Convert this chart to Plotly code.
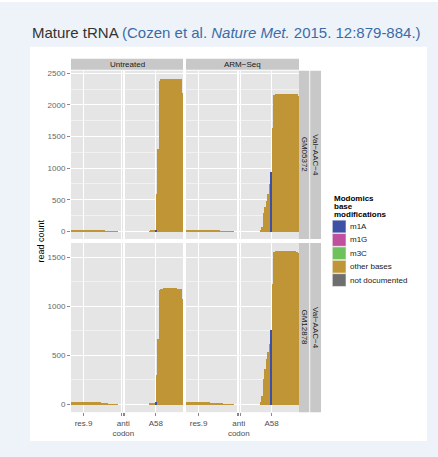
import plotly.graph_objects as go

W, H = 438, 457

# ---------------- data ----------------
positions = list(range(1, 77))
m1a_position = 58

treatments = ["Untreated", "ARM\u2212Seq"]
samples = ["GM05372", "GM12878"]
trna_label = "Val\u2212AAC\u22124"

other_untreated_gm05372 = [22, 24, 25, 26, 26, 27, 27, 26, 26, 25, 25, 24, 24, 23, 23, 22, 22, 21, 20, 19, 18, 17, 15,
                           8, 7, 6, 5, 5, 4, 4, 3, 3,
                           0, 0, 0, 0, 0, 0, 0, 0, 0, 0, 0, 0, 0, 0, 0, 0, 0, 0, 0, 0, 0,
                           8, 10, 12, 14,
                           0,
                           600, 1300, 2380,
                           2415, 2418, 2420, 2420, 2421, 2421, 2420, 2420, 2419, 2419, 2418, 2418, 2417, 2416,
                           2190]
other_armseq_gm05372 = [28, 30, 31, 32, 32, 33, 33, 32, 32, 31, 31, 30, 30, 29, 29, 28, 27, 26, 25, 24, 23, 21, 19,
                        9, 8, 7, 6, 5, 5, 4, 4, 3,
                        0, 0, 0, 0, 0, 0, 0, 0, 0, 0, 0, 0, 0, 0, 0, 0, 0, 0,
                        20, 80, 290, 390, 490, 600, 760,
                        0,
                        1635,
                        2170, 2175, 2177, 2178, 2178, 2179, 2179, 2178, 2178, 2178, 2177, 2177, 2176, 2175, 2174, 2172,
                        2150]
other_untreated_gm12878 = [26, 27, 28, 29, 29, 30, 30, 30, 29, 29, 28, 28, 27, 27, 26, 26, 25, 24, 23, 22, 21, 19, 17,
                           7, 6, 5, 5, 4, 4, 3, 3, 2,
                           0, 0, 0, 0, 0, 0, 0, 0, 0, 0, 0, 0, 0, 0, 0, 0, 0, 0, 0, 0, 0,
                           10, 13, 15, 18,
                           0,
                           297, 670, 1170,
                           1180, 1183, 1185, 1186, 1186, 1186, 1185, 1185, 1185, 1184, 1184, 1183, 1182, 1180,
                           1077]
other_armseq_gm12878 = [22, 23, 24, 25, 25, 26, 26, 26, 25, 25, 24, 24, 23, 23, 22, 22, 21, 20, 19, 18, 17, 16, 14,
                        7, 6, 5, 5, 4, 4, 3, 3, 2,
                        0, 0, 0, 0, 0, 0, 0, 0, 0, 0, 0, 0, 0, 0, 0, 0, 0, 0,
                        25, 90, 260, 360, 460, 540, 620,
                        0,
                        1230,
                        1560, 1565, 1567, 1568, 1568, 1569, 1569, 1569, 1568, 1568, 1568, 1567, 1566, 1565, 1563, 1560,
                        1550]
m1a_values = {("GM05372", 0): 15, ("GM05372", 1): 950,
              ("GM12878", 0): 22, ("GM12878", 1): 765}

other_values = {("GM05372", 0): other_untreated_gm05372, ("GM05372", 1): other_armseq_gm05372,
                ("GM12878", 0): other_untreated_gm12878, ("GM12878", 1): other_armseq_gm12878}

tick_vals = [9, 35, 36, 37, 58]
tick_text = ["res.9", "", "anti<br>codon", "", "A58"]
y_ticks_row = [[0, 500, 1000, 1500, 2000, 2500], [0, 500, 1000, 1500]]

legend_names = ["m1A", "m1G", "m3C", "other bases", "not documented"]
legend_colors = ["#3E50A6", "#C0509E", "#6DC25C", "#C09536", "#6E6E6E"]
color_m1a = legend_colors[0]
color_other = legend_colors[3]

# ---------------- layout helpers ----------------
def px(x):
    return x / W

def py(y):
    return 1 - y / H

col_x = [(71, 183), (186, 299)]
row_y = [(69, 238), (242, 412)]

FONT = "Liberation Sans, Arial, sans-serif"

fig = go.Figure()

axis_idx = 0
for r, sample in enumerate(samples):
    row_max = max(max(other_values[(sample, c)]) for c in range(2))
    row_max = max(row_max, max(m1a_values[(sample, c)] for c in range(2)))
    yr = [-0.05 * row_max, 1.05 * row_max]
    for c in range(2):
        axis_idx += 1
        xa = "x" if axis_idx == 1 else f"x{axis_idx}"
        ya = "y" if axis_idx == 1 else f"y{axis_idx}"
        fig.add_trace(go.Bar(x=positions, y=other_values[(sample, c)], width=1,
                             marker=dict(color=color_other, line=dict(width=0)),
                             xaxis=xa, yaxis=ya, showlegend=False, name="other bases"))
        fig.add_trace(go.Bar(x=[m1a_position], y=[m1a_values[(sample, c)]], width=1,
                             marker=dict(color=color_m1a, line=dict(width=0)),
                             xaxis=xa, yaxis=ya, showlegend=False, name="m1A"))
        xkey = "xaxis" if axis_idx == 1 else f"xaxis{axis_idx}"
        ykey = "yaxis" if axis_idx == 1 else f"yaxis{axis_idx}"
        bottom = (r == 1)
        left = (c == 0)
        fig.layout[xkey] = dict(
            domain=[px(col_x[c][0]), px(col_x[c][1])], anchor=ya, range=[0.5, 76.5],
            tickmode="array", tickvals=tick_vals, ticktext=tick_text,
            showticklabels=bottom, ticks="outside" if bottom else "", ticklen=3, tickwidth=0.5,
            tickcolor="#888888", showgrid=True, gridcolor="#FFFFFF", gridwidth=1.1,
            zeroline=False, showline=False, fixedrange=True,
            tickfont=dict(family=FONT, size=8, color="#4D4D4D"))
        fig.layout[ykey] = dict(
            domain=[py(row_y[r][1]), py(row_y[r][0])], anchor=xa, range=yr,
            tickmode="array", tickvals=y_ticks_row[r],
            showticklabels=left, ticks="outside" if left else "", ticklen=3, tickwidth=0.5,
            tickcolor="#888888", showgrid=True, gridcolor="#FFFFFF", gridwidth=1.1,
            minor=dict(tickmode="linear", tick0=250, dtick=500, showgrid=True,
                       gridcolor="#F2F2F2", gridwidth=0.5, ticks=""),
            zeroline=False, showline=False, fixedrange=True,
            tickfont=dict(family=FONT, size=8, color="#666666"))

shapes = []
annotations = []
bg_blue = "#EEF3F9"
# frame around white card
for (x0, y0, x1, y1) in [(0, 0, W, 45), (0, 441, W, H), (0, 0, 30, H), (427, 0, W, H)]:
    shapes.append(dict(type="rect", xref="paper", yref="paper", x0=px(x0), x1=px(x1), y0=py(y1), y1=py(y0),
                       fillcolor=bg_blue, line=dict(width=0), layer="below"))

strip_fill = "#C8C8C8"
# top strips
for c, t in enumerate(treatments):
    shapes.append(dict(type="rect", xref="paper", yref="paper", x0=px(col_x[c][0]), x1=px(col_x[c][1]),
                       y0=py(68), y1=py(57), fillcolor=strip_fill, line=dict(width=0)))
    annotations.append(dict(text=t, x=px((col_x[c][0] + col_x[c][1]) / 2), y=py(62.5), xref="paper", yref="paper",
                            showarrow=False, xanchor="center", yanchor="middle",
                            font=dict(family=FONT, size=8, color="#1A1A1A")))
# right strips
for r, s in enumerate(samples):
    for (x0, x1, txt) in [(299, 309.3, s), (310.2, 321, trna_label)]:
        shapes.append(dict(type="rect", xref="paper", yref="paper", x0=px(x0), x1=px(x1),
                           y0=py(row_y[r][1]), y1=py(row_y[r][0]), fillcolor=strip_fill, line=dict(width=0)))
        annotations.append(dict(text=txt, x=px((x0 + x1) / 2), y=py((row_y[r][0] + row_y[r][1]) / 2),
                                xref="paper", yref="paper", showarrow=False, textangle=90,
                                xanchor="center", yanchor="middle",
                                font=dict(family=FONT, size=8, color="#1A1A1A")))

# y axis title
annotations.append(dict(text="read count", x=px(41), y=py(240.5), xref="paper", yref="paper", showarrow=False,
                        textangle=-90, xanchor="center", yanchor="middle",
                        font=dict(family=FONT, size=9, color="#000000")))

# chart title
annotations.append(dict(
    text="Mature tRNA <span style='color:#3A6CA8'>(Cozen et al. <i>Nature Met.</i> 2015. 12:879-884.)</span>",
    x=px(30), y=py(30.5), xref="paper", yref="paper", showarrow=False, xanchor="left", yanchor="middle",
    font=dict(family=FONT, size=15, color="#333333")))

# legend (drawn manually)
for i, line in enumerate(["Modomics", "base", "modifications"]):
    annotations.append(dict(text=f"<b>{line}</b>", x=px(332), y=py(197 + 8.3 * i), xref="paper", yref="paper",
                            showarrow=False, xanchor="left", yanchor="middle",
                            font=dict(family=FONT, size=8, color="#000000")))
for i, (name, col) in enumerate(zip(legend_names, legend_colors)):
    yc = 225.5 + 13.45 * i
    shapes.append(dict(type="rect", xref="paper", yref="paper", x0=px(332.3), x1=px(346),
                       y0=py(yc + 6.4), y1=py(yc - 6.4), fillcolor=col, line=dict(width=0.6, color="#F2F2F2")))
    annotations.append(dict(text=name, x=px(348.3), y=py(yc), xref="paper", yref="paper", showarrow=False,
                            xanchor="left", yanchor="middle",
                            font=dict(family=FONT, size=8, color="#1A1A1A")))

fig.update_layout(
    width=W, height=H, margin=dict(l=0, r=0, t=0, b=0),
    paper_bgcolor="#FFFFFF", plot_bgcolor="#E5E5E5",
    barmode="overlay", bargap=0, showlegend=False,
    shapes=shapes, annotations=annotations,
    font=dict(family=FONT),
)

fig.write_html("out.html", config={"displayModeBar": False},
               post_script="document.body.style.margin='0';document.body.style.padding='0';"
                           "document.body.style.overflow='hidden';")
